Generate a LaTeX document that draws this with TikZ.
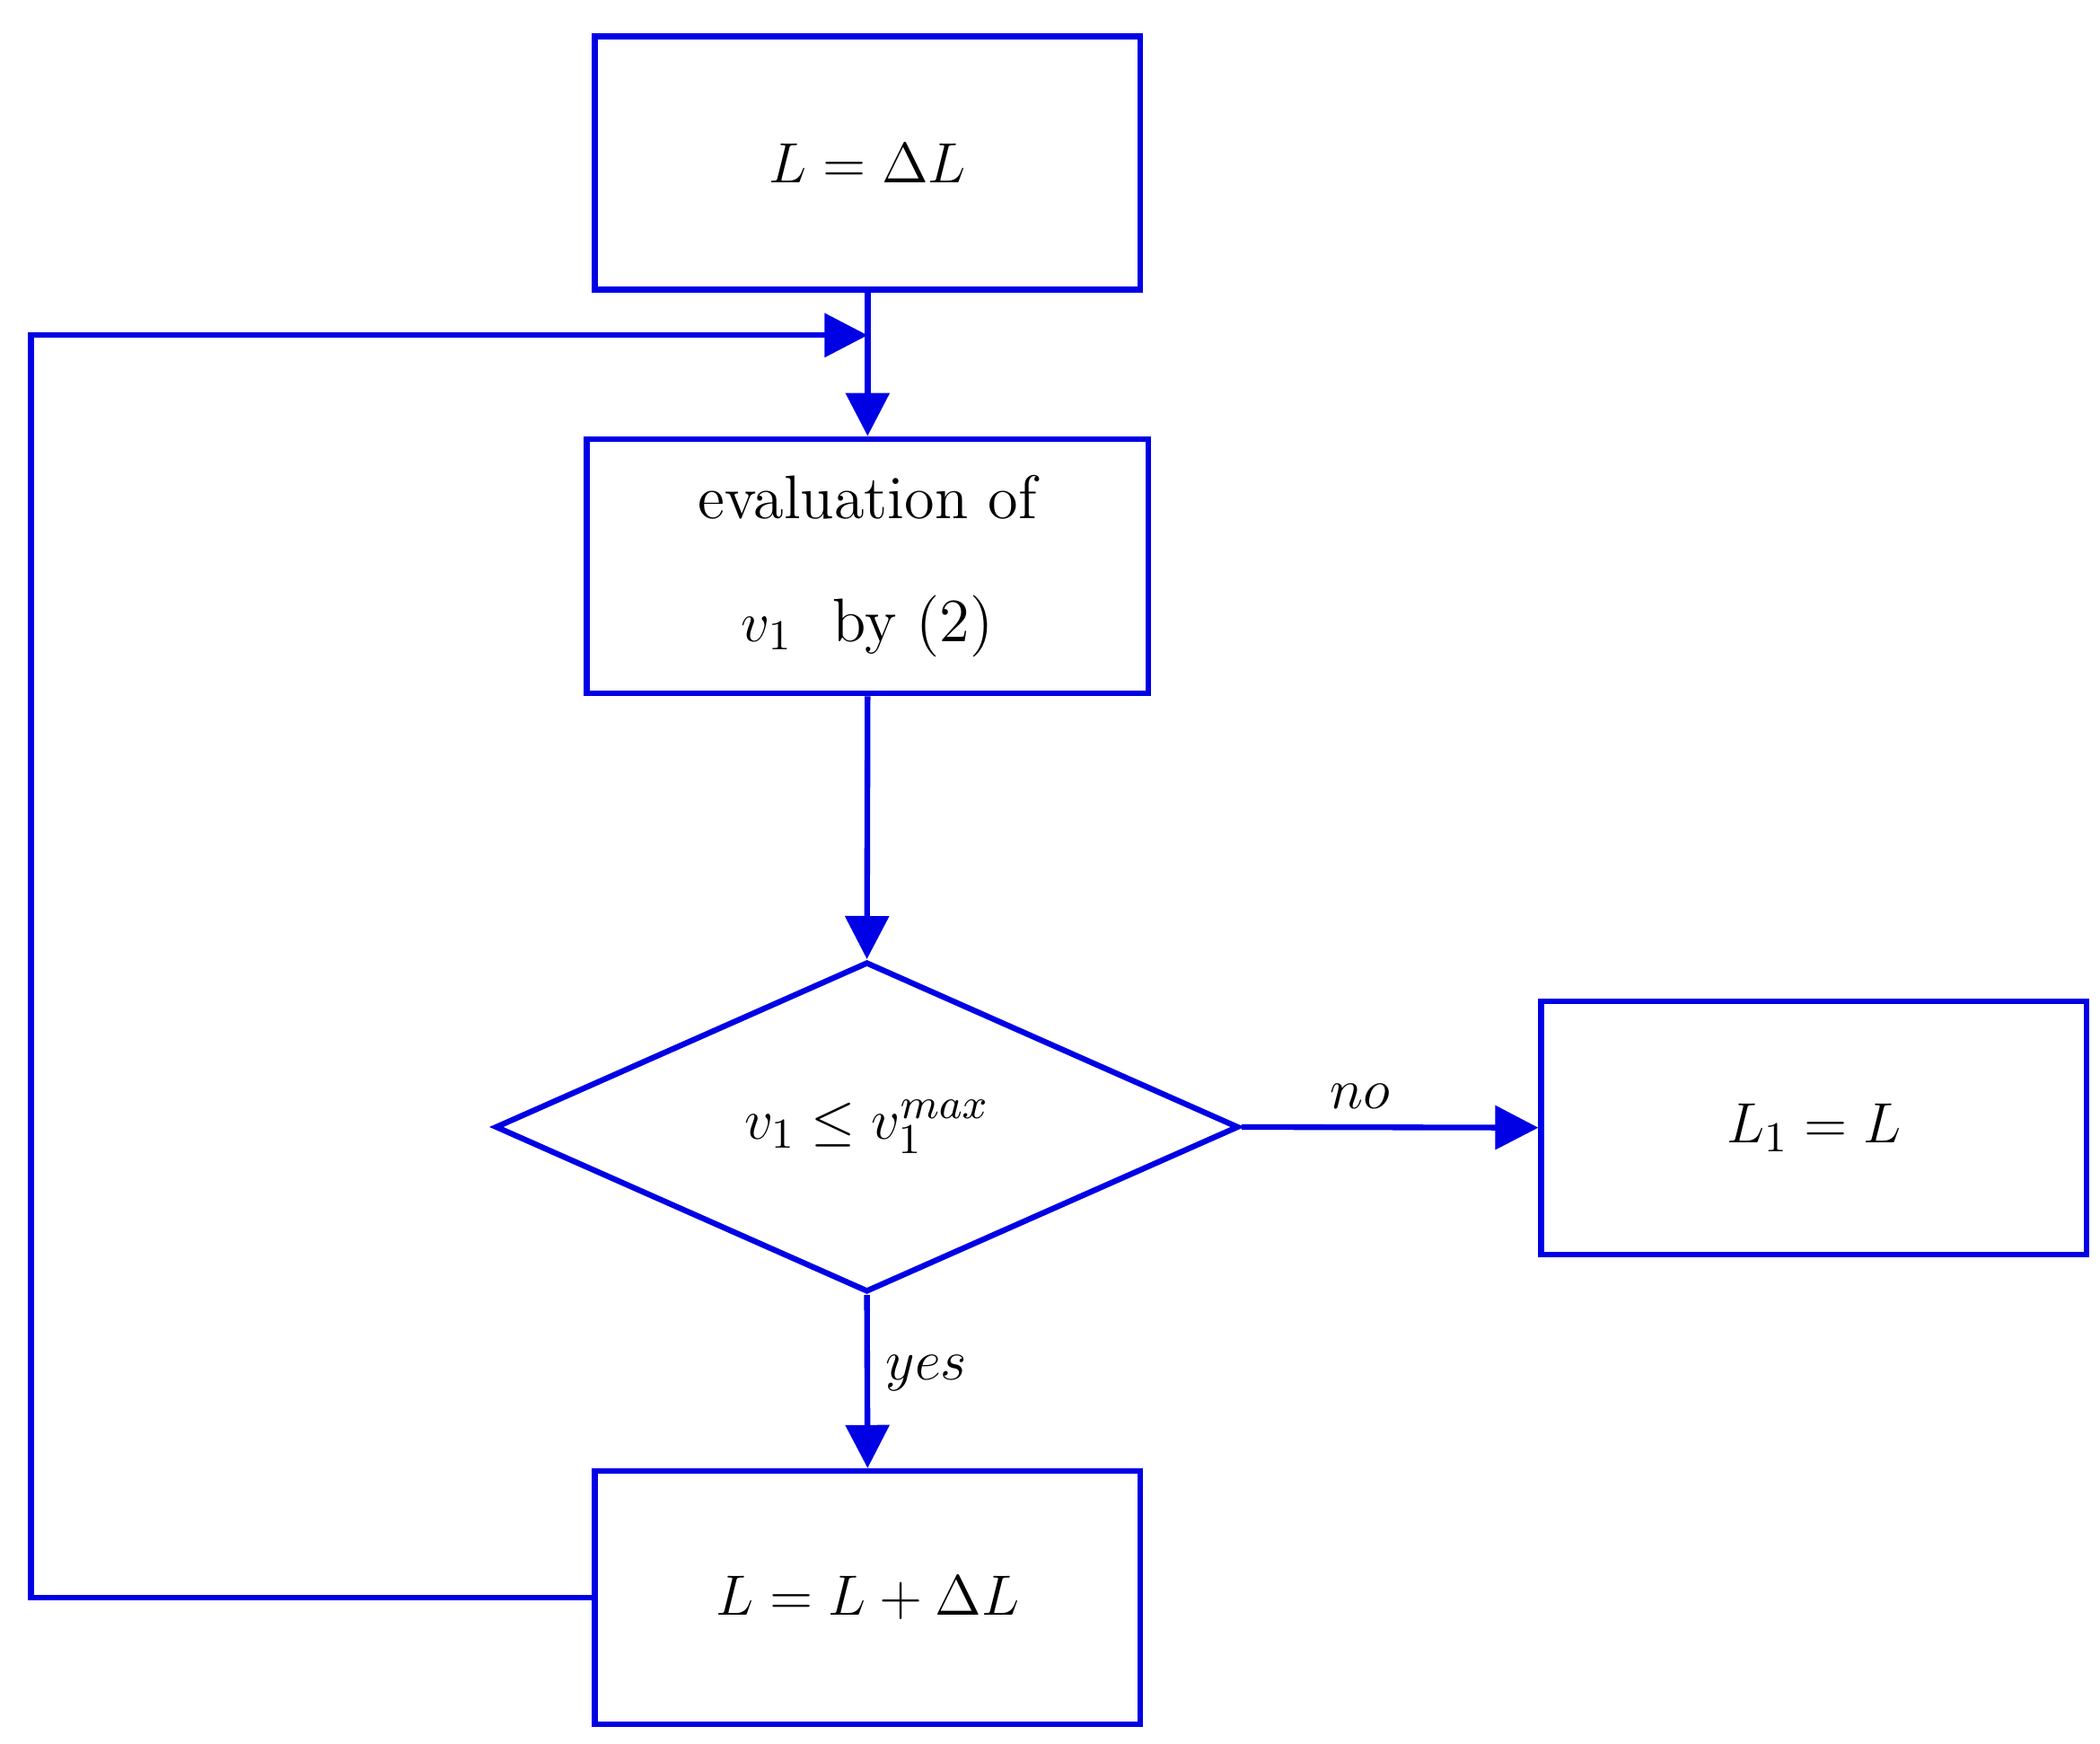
\documentclass[tikz,border=0pt]{standalone}
\usetikzlibrary{arrows.meta,shapes.geometric}
\begin{document}
\begin{tikzpicture}[x=0.01cm,y=-0.01cm,
  line width=1.2pt,
  every node/.style={font=\fontsize{13}{16}\selectfont},
  box/.style={draw=blue!90!black,line width=1.2pt,minimum width=4.05cm,minimum height=1.88cm,inner sep=0pt},
  con/.style={draw=blue!90!black,line width=1.2pt,-{Triangle[length=0.32cm,width=0.32cm]}}]
\useasboundingbox (0,0) rectangle (1560,1295);
\node[box] (b1) at (644.5,121) {$L=\Delta L$};
\node[box,minimum width=4.17cm,minimum height=1.89cm,align=center] (b2) at (644.5,420.5) {evaluation of\\[0.35cm] $v_1$\ \ by (2)};
\node[diamond,draw=blue!90!black,line width=1.2pt,aspect=2.25,minimum width=5.52cm,minimum height=2.45cm,inner sep=0pt] (d) at (644,837) {$v_1\le v_1^{max}$};
\node[box] (b3) at (1347.5,837.5) {$L_1=L$};
\node[box] (b4) at (644.5,1186.5) {$L=L+\Delta L$};
\coordinate (j) at (644.5,249);
\coordinate (c1) at (23,1186.5);
\coordinate (c2) at (23,249);
\draw[draw=blue!90!black] (b1.south) -- (j);
\draw[con] (j) -- (b2.north);
\draw[con] (b2.south) -- (d.north);
\draw[con] (d.east) -- node[above,pos=0.4]{$no$} (b3.west);
\draw[con] (d.south) -- node[right,pos=0.45]{$yes$} (b4.north);
\draw[con] (b4.west) -- (c1) -- (c2) -- (j);
\end{tikzpicture}
\end{document}
